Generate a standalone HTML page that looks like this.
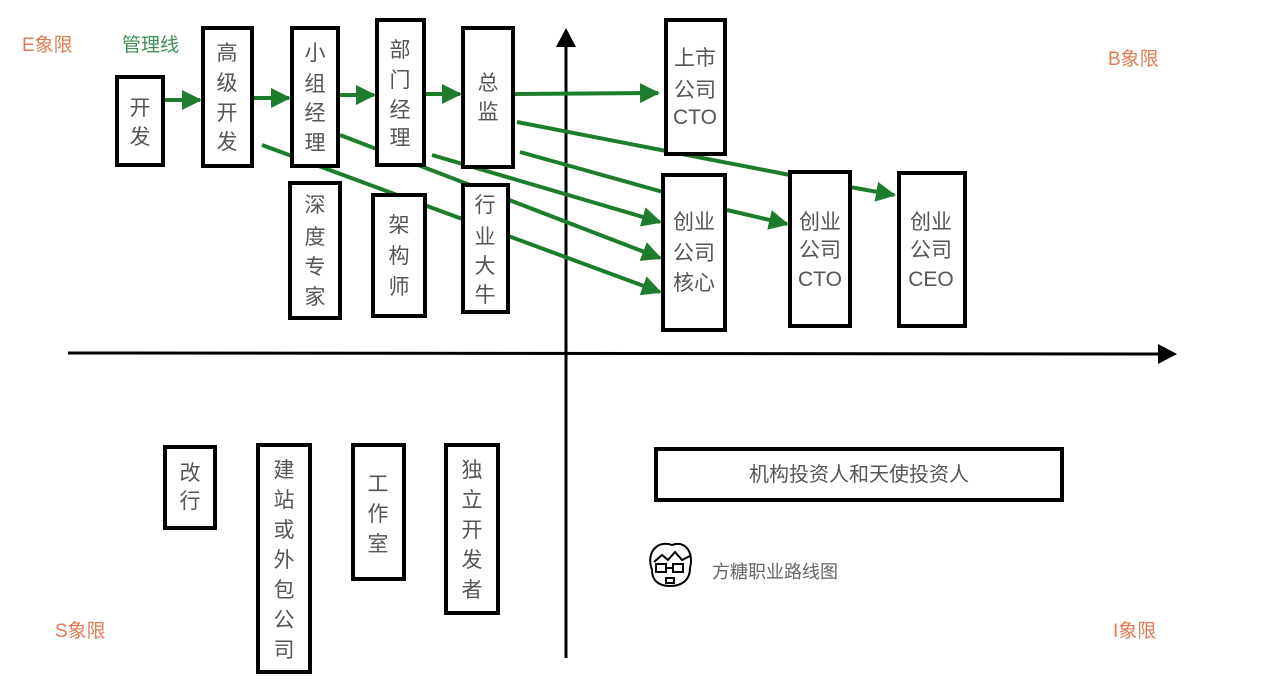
<!DOCTYPE html>
<html><head><meta charset="utf-8"><style>
html,body{margin:0;padding:0;background:#fff;}
svg{display:block;}
text{font-family:"Liberation Sans","Noto Sans CJK SC",sans-serif;}
.b{fill:#fff;stroke:#000;stroke-width:4;}
.t{font-size:21px;fill:#555;text-anchor:middle;dominant-baseline:central;}
.g{stroke:#1e7d2c;stroke-width:4;fill:none;}
.q{font-size:19px;fill:#e07a52;}
</style></head><body>
<svg width="1261" height="699" viewBox="0 0 1261 699" xmlns="http://www.w3.org/2000/svg">
<defs>
<marker id="a" markerWidth="5" markerHeight="5" refX="4.5" refY="2.5" orient="auto" markerUnits="strokeWidth"><path d="M0,0 L5,2.5 L0,5 z" fill="#1e7d2c"/></marker>
</defs>
<rect width="1261" height="699" fill="#fff"/>
<!-- axes -->
<line x1="566" y1="45" x2="566" y2="658" stroke="#000" stroke-width="3"/>
<path d="M556,47 L566,28 L576,47 z" fill="#000"/>
<line x1="68" y1="353" x2="1160" y2="354" stroke="#000" stroke-width="3"/>
<path d="M1158,344 L1177,354 L1158,364 z" fill="#000"/>
<!-- labels -->
<text x="22" y="51" class="q">E象限</text>
<text x="1108" y="65" class="q">B象限</text>
<text x="55" y="637" class="q">S象限</text>
<text x="1113" y="637" class="q">I象限</text>
<text x="122" y="51" style="font-size:19px;fill:#3f8f52">管理线</text>
<!-- green connectors -->
<line class="g" x1="163" y1="100" x2="200" y2="100" marker-end="url(#a)"/>
<line class="g" x1="252" y1="98" x2="289" y2="98" marker-end="url(#a)"/>
<line class="g" x1="338" y1="95" x2="374" y2="95" marker-end="url(#a)"/>
<line class="g" x1="424" y1="94" x2="460" y2="94" marker-end="url(#a)"/>
<line class="g" x1="515" y1="94" x2="658" y2="93" marker-end="url(#a)"/>
<line class="g" x1="517" y1="122" x2="790" y2="175"/>
<line class="g" x1="850" y1="187" x2="894" y2="195" marker-end="url(#a)"/>
<line class="g" x1="520" y1="152" x2="663" y2="192"/>
<line class="g" x1="727" y1="210" x2="787" y2="224" marker-end="url(#a)"/>
<line class="g" x1="432" y1="155" x2="660" y2="222" marker-end="url(#a)"/>
<line class="g" x1="340" y1="135" x2="660" y2="258" marker-end="url(#a)"/>
<line class="g" x1="262" y1="145" x2="660" y2="292" marker-end="url(#a)"/>
<!-- boxes -->
<rect class="b" x="117" y="77" width="46" height="88"/>
<text class="t" x="140"><tspan x="140" y="108">开</tspan><tspan x="140" y="137">发</tspan></text>
<rect class="b" x="203" y="28" width="49" height="138"/>
<text class="t"><tspan x="227" y="53">高</tspan><tspan x="227" y="83">级</tspan><tspan x="227" y="113">开</tspan><tspan x="227" y="142">发</tspan></text>
<rect class="b" x="292" y="28" width="46" height="138"/>
<text class="t"><tspan x="315" y="53">小</tspan><tspan x="315" y="84">组</tspan><tspan x="315" y="113">经</tspan><tspan x="315" y="143">理</tspan></text>
<rect class="b" x="377" y="20" width="47" height="145"/>
<text class="t"><tspan x="400" y="50">部</tspan><tspan x="400" y="80">门</tspan><tspan x="400" y="110">经</tspan><tspan x="400" y="138">理</tspan></text>
<rect class="b" x="463" y="28" width="50" height="139"/>
<text class="t"><tspan x="488" y="83">总</tspan><tspan x="488" y="112">监</tspan></text>
<rect class="b" x="290" y="183" width="50" height="135"/>
<text class="t"><tspan x="315" y="205">深</tspan><tspan x="315" y="237">度</tspan><tspan x="315" y="267">专</tspan><tspan x="315" y="297">家</tspan></text>
<rect class="b" x="373" y="195" width="52" height="121"/>
<text class="t"><tspan x="399" y="225">架</tspan><tspan x="399" y="256">构</tspan><tspan x="399" y="287">师</tspan></text>
<rect class="b" x="463" y="185" width="45" height="127"/>
<text class="t"><tspan x="485" y="205">行</tspan><tspan x="485" y="237">业</tspan><tspan x="485" y="266">大</tspan><tspan x="485" y="295">牛</tspan></text>
<rect class="b" x="666" y="20" width="59" height="134"/>
<text class="t"><tspan x="695" y="58">上市</tspan><tspan x="695" y="90">公司</tspan><tspan x="695" y="117">CTO</tspan></text>
<rect class="b" x="663" y="175" width="62" height="155"/>
<text class="t"><tspan x="694" y="222">创业</tspan><tspan x="694" y="253">公司</tspan><tspan x="694" y="283">核心</tspan></text>
<rect class="b" x="790" y="172" width="60" height="154"/>
<text class="t"><tspan x="820" y="222">创业</tspan><tspan x="820" y="250">公司</tspan><tspan x="820" y="279">CTO</tspan></text>
<rect class="b" x="899" y="173" width="66" height="153"/>
<text class="t"><tspan x="931" y="222">创业</tspan><tspan x="931" y="250">公司</tspan><tspan x="931" y="279">CEO</tspan></text>
<rect class="b" x="165" y="447" width="50" height="81"/>
<text class="t"><tspan x="190" y="473">改</tspan><tspan x="190" y="501">行</tspan></text>
<rect class="b" x="258" y="445" width="52" height="227"/>
<text class="t"><tspan x="284" y="470">建</tspan><tspan x="284" y="500">站</tspan><tspan x="284" y="530">或</tspan><tspan x="284" y="560">外</tspan><tspan x="284" y="590">包</tspan><tspan x="284" y="620">公</tspan><tspan x="284" y="650">司</tspan></text>
<rect class="b" x="353" y="445" width="51" height="134"/>
<text class="t"><tspan x="378" y="484">工</tspan><tspan x="378" y="514">作</tspan><tspan x="378" y="544">室</tspan></text>
<rect class="b" x="446" y="445" width="52" height="168"/>
<text class="t"><tspan x="472" y="470">独</tspan><tspan x="472" y="500">立</tspan><tspan x="472" y="530">开</tspan><tspan x="472" y="560">发</tspan><tspan x="472" y="590">者</tspan></text>
<rect class="b" x="656" y="449" width="406" height="51"/>
<text class="t" x="859" y="475" style="font-size:20px">机构投资人和天使投资人</text>
<!-- face icon -->
<g stroke="#000" stroke-width="2" fill="none">
<path d="M652,570 C645,550 660,540 672,545 C685,540 694,552 690,568 C690,580 682,586 670,586 C658,586 652,580 652,570 z" fill="#fff"/>
<path d="M654,562 L662,555 L668,560 L675,552 L682,560 L690,556"/>
<rect x="656" y="564" width="10" height="8"/><rect x="673" y="564" width="10" height="8"/>
<line x1="666" y1="568" x2="673" y2="568"/>
<rect x="666" y="578" width="8" height="5"/>
</g>
<text x="712" y="578" style="font-size:18px;fill:#666">方糖职业路线图</text>
</svg>
</body></html>
